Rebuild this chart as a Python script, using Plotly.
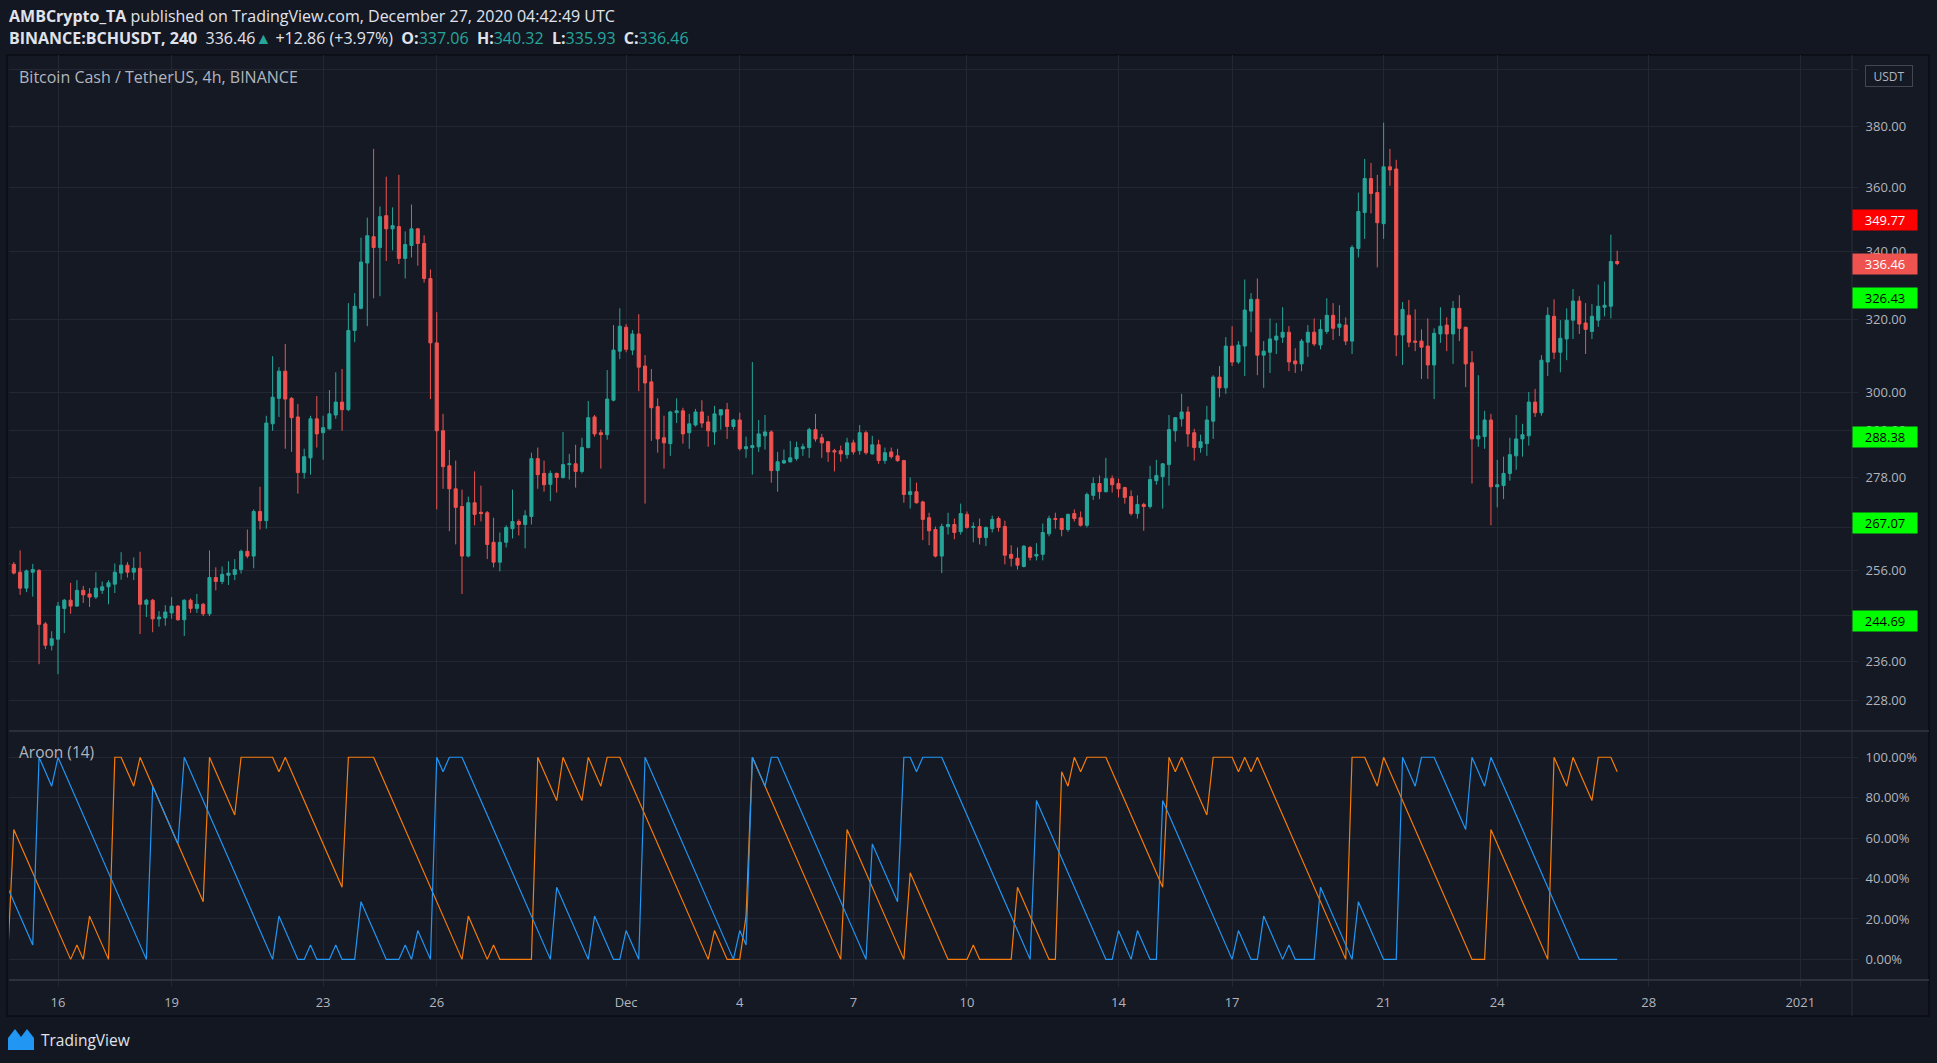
import numpy as np
import pandas as pd
import plotly.graph_objects as go

# ------------------------------------------------------------------ data
BAR_START = "2020-11-14 16:00"   # first (partly clipped) 4h candle
BAR_FREQ = "4h"

opens = [
    257.4, 257.4, 255.6, 252.0, 255.6, 256.0, 244.1, 239.5, 240.8, 247.5,
    249.3, 248.0, 251.5, 250.7, 250.0, 251.5, 252.3, 252.9, 255.4, 257.2,
    255.6, 256.5, 248.4, 249.3, 245.2, 245.4, 246.5, 248.0, 245.0, 249.3,
    247.5, 248.4, 246.3, 254.4, 253.5, 254.9, 255.1, 256.2, 260.4, 259.3,
    269.8, 267.6, 291.7, 298.4, 305.7, 298.4, 293.5, 279.3, 283.0, 293.0,
    289.4, 290.4, 294.0, 297.4, 295.4, 317.0, 323.3, 336.6, 344.6, 341.3,
    351.1, 347.0, 347.7, 338.0, 341.9, 347.0, 342.5, 332.0, 313.5, 289.9,
    281.0, 275.3, 271.0, 259.3, 271.9, 269.6, 269.5, 262.5, 257.9, 262.5,
    265.7, 267.4, 266.7, 268.6, 282.8, 279.1, 276.4, 279.1, 278.1, 281.3,
    281.5, 279.6, 285.6, 293.5, 289.4, 288.9, 297.9, 311.2, 317.9, 311.5,
    316.0, 307.1, 302.8, 296.2, 288.1, 286.6, 294.6, 295.1, 289.4, 291.4,
    294.8, 292.2, 289.6, 294.0, 295.4, 291.0, 292.7, 285.3, 285.6, 285.8,
    288.6, 289.6, 279.8, 281.7, 282.0, 282.8, 285.3, 285.6, 290.2, 288.1,
    287.1, 284.8, 284.8, 283.8, 286.8, 284.8, 289.4, 284.0, 286.3, 282.3,
    284.5, 283.5, 282.3, 273.9, 274.6, 272.1, 268.3, 265.5, 259.3, 266.2,
    266.7, 265.0, 269.1, 266.0, 266.2, 263.6, 265.7, 268.1, 266.2, 259.7,
    258.8, 256.9, 261.3, 259.3, 259.7, 264.5, 268.1, 268.1, 265.5, 269.3,
    268.3, 266.5, 273.7, 276.6, 274.6, 277.8, 276.6, 275.6, 273.4, 269.3,
    271.5, 271.0, 277.3, 278.3, 281.3, 289.9, 293.0, 294.8, 289.4, 285.6,
    286.6, 292.4, 304.1, 301.2, 312.6, 308.2, 312.6, 322.5, 325.9, 310.1,
    310.9, 314.3, 315.1, 316.5, 308.5, 307.7, 313.7, 316.5, 312.9, 316.7,
    321.3, 317.9, 318.5, 314.0, 341.0, 352.1, 362.9, 358.4, 348.6, 366.7,
    366.0, 315.7, 321.3, 314.0, 314.0, 312.6, 307.4, 316.0, 318.5, 316.0,
    323.3, 317.9, 308.0, 287.8, 288.4, 292.7, 275.8, 276.1, 279.1, 283.5,
    287.8, 288.6, 297.4, 294.6, 308.2, 321.0, 310.9, 314.6, 319.9, 325.4,
    319.1, 316.7, 319.9, 323.6, 323.9, 337.06,
]
highs = [
    257.8, 257.9, 260.6, 256.2, 257.5, 256.3, 244.5, 242.5, 248.9, 249.6,
    253.2, 253.8, 252.5, 252.0, 255.6, 253.5, 253.8, 257.6, 260.2, 257.9,
    259.0, 260.3, 249.6, 249.6, 246.9, 248.2, 250.0, 248.2, 249.5, 249.7,
    250.7, 248.7, 260.6, 256.7, 256.9, 258.1, 258.6, 260.8, 265.5, 270.3,
    275.8, 293.8, 309.8, 306.8, 313.2, 298.7, 296.9, 285.3, 293.8, 299.0,
    293.8, 300.6, 305.4, 306.3, 324.8, 327.7, 344.3, 350.5, 372.6, 354.0,
    363.5, 353.7, 364.1, 346.2, 354.6, 347.3, 345.0, 334.7, 322.2, 294.3,
    285.0, 282.3, 275.1, 273.4, 279.6, 276.1, 269.9, 268.3, 264.8, 266.5,
    275.1, 267.9, 270.1, 284.3, 285.6, 282.3, 279.8, 279.3, 289.6, 284.0,
    286.3, 288.1, 297.7, 294.0, 290.2, 306.0, 318.5, 323.3, 318.8, 317.1,
    321.6, 310.1, 306.3, 298.4, 293.8, 295.1, 298.4, 295.9, 294.3, 295.6,
    297.9, 293.8, 296.4, 295.5, 297.2, 293.0, 294.6, 288.4, 308.2, 292.7,
    294.0, 290.0, 284.5, 285.1, 287.3, 287.1, 286.6, 290.7, 294.3, 289.1,
    287.3, 285.3, 286.1, 288.1, 287.6, 291.4, 289.9, 288.6, 287.6, 285.6,
    285.6, 285.3, 282.5, 278.1, 276.8, 272.4, 269.5, 266.2, 266.9, 269.5,
    268.1, 271.7, 269.8, 267.2, 268.1, 266.2, 268.8, 268.6, 267.6, 261.8,
    261.3, 261.8, 261.6, 262.3, 266.9, 268.8, 269.5, 268.3, 269.3, 270.3,
    269.8, 274.4, 278.1, 278.6, 283.0, 278.6, 277.8, 275.8, 274.9, 273.7,
    271.9, 281.0, 282.5, 281.7, 294.0, 293.5, 299.6, 296.2, 290.4, 288.9,
    296.4, 304.6, 307.1, 315.1, 318.2, 314.0, 331.7, 327.7, 332.0, 314.0,
    320.4, 319.1, 323.6, 318.2, 312.0, 314.6, 318.5, 320.4, 320.1, 326.2,
    324.8, 324.2, 320.7, 342.0, 358.4, 369.3, 368.0, 364.1, 381.4, 372.6,
    369.0, 325.1, 325.7, 323.0, 317.3, 320.4, 317.6, 323.6, 320.7, 325.4,
    327.1, 318.0, 311.2, 304.6, 295.1, 294.3, 282.5, 283.3, 288.1, 294.0,
    291.7, 300.1, 300.9, 310.1, 323.6, 325.9, 319.9, 323.3, 328.9, 326.8,
    324.8, 324.5, 330.2, 331.1, 345.2, 340.32,
]
lows = [
    257.2, 255.1, 250.5, 251.1, 250.1, 235.5, 238.7, 238.4, 233.4, 242.1,
    246.3, 247.8, 248.7, 247.8, 249.6, 250.7, 248.4, 250.9, 253.9, 254.4,
    253.8, 241.9, 245.6, 242.3, 243.5, 243.7, 245.2, 244.8, 241.5, 246.5,
    246.5, 245.8, 245.8, 251.5, 252.9, 252.7, 253.8, 255.3, 258.8, 256.5,
    265.5, 265.7, 289.9, 293.5, 285.3, 284.5, 274.1, 277.8, 278.8, 285.6,
    282.5, 290.2, 293.0, 289.9, 295.0, 313.7, 323.0, 318.2, 326.2, 326.8,
    337.2, 340.4, 336.3, 332.0, 338.3, 335.8, 330.8, 298.2, 270.3, 275.3,
    265.1, 262.0, 250.7, 259.0, 266.5, 267.4, 258.6, 256.7, 255.8, 261.3,
    263.4, 264.1, 261.1, 266.7, 275.3, 274.6, 272.3, 274.4, 277.8, 277.6,
    275.6, 279.1, 285.4, 288.4, 280.3, 287.6, 297.6, 309.0, 310.9, 310.1,
    300.3, 271.7, 287.3, 284.3, 280.3, 283.5, 291.9, 286.6, 285.3, 291.0,
    290.7, 285.8, 286.3, 290.2, 287.8, 290.2, 284.8, 283.0, 278.8, 284.5,
    285.1, 276.8, 274.6, 281.5, 281.8, 282.3, 283.5, 283.0, 287.1, 283.0,
    282.0, 279.6, 282.0, 282.8, 283.8, 283.8, 283.8, 283.8, 281.5, 281.5,
    282.8, 282.0, 271.9, 270.5, 271.7, 263.0, 261.8, 259.0, 255.4, 264.3,
    263.2, 264.3, 265.7, 262.5, 262.0, 261.6, 264.8, 265.0, 257.4, 256.9,
    256.2, 256.7, 258.3, 258.3, 258.3, 263.9, 265.7, 263.9, 265.0, 267.4,
    266.2, 266.0, 272.6, 272.8, 274.4, 274.4, 273.2, 271.7, 268.8, 268.1,
    265.2, 270.5, 276.3, 270.5, 276.1, 287.1, 291.0, 285.8, 282.3, 284.3,
    283.5, 287.8, 298.7, 299.6, 307.1, 307.7, 304.4, 316.5, 304.6, 301.2,
    305.2, 310.4, 313.5, 305.7, 305.2, 305.7, 309.6, 312.6, 311.7, 316.0,
    314.3, 315.4, 312.9, 310.4, 338.3, 343.9, 351.8, 335.3, 343.9, 360.6,
    309.8, 307.4, 312.3, 311.2, 303.6, 303.6, 298.2, 313.5, 311.2, 307.7,
    314.0, 301.4, 276.6, 285.8, 285.3, 266.5, 270.8, 272.8, 277.3, 280.0,
    283.3, 286.1, 293.5, 293.8, 304.4, 309.0, 305.4, 308.7, 314.6, 316.0,
    310.4, 314.6, 318.0, 321.0, 320.4, 335.93,
]
closes = [
    257.6, 255.4, 252.0, 255.9, 256.2, 244.0, 239.5, 240.9, 248.0, 249.3,
    248.0, 251.5, 250.5, 250.0, 252.0, 252.3, 253.2, 255.6, 257.2, 255.6,
    256.5, 248.4, 249.3, 245.2, 245.6, 246.7, 248.0, 245.0, 249.3, 247.5,
    248.4, 246.3, 254.4, 253.5, 255.1, 255.4, 256.2, 260.4, 259.3, 269.8,
    267.6, 291.9, 298.7, 305.7, 298.2, 293.3, 279.3, 283.3, 293.0, 289.1,
    290.7, 294.3, 297.4, 295.4, 317.0, 323.9, 336.9, 344.9, 341.3, 350.8,
    347.0, 348.0, 338.0, 342.2, 347.0, 342.5, 332.0, 313.5, 289.9, 280.8,
    275.3, 270.8, 259.3, 271.9, 269.1, 269.3, 262.0, 257.9, 262.5, 266.0,
    267.4, 266.7, 268.8, 282.8, 278.8, 276.3, 279.1, 278.1, 281.3, 281.5,
    279.6, 285.6, 293.3, 289.1, 288.9, 298.2, 311.5, 318.2, 311.7, 316.0,
    306.8, 302.5, 295.9, 287.8, 286.8, 294.8, 295.1, 289.1, 291.7, 294.8,
    291.9, 289.9, 294.3, 295.4, 291.0, 292.7, 285.3, 285.8, 286.1, 289.1,
    289.6, 279.8, 282.0, 282.3, 283.0, 285.6, 285.8, 290.2, 287.8, 286.8,
    284.5, 284.5, 284.0, 286.8, 284.5, 289.4, 284.3, 286.3, 282.3, 284.3,
    283.3, 282.3, 273.9, 274.6, 271.9, 267.9, 265.2, 259.3, 266.2, 266.7,
    264.8, 269.3, 266.0, 266.2, 263.6, 266.0, 267.9, 266.0, 259.5, 258.8,
    257.2, 261.6, 259.0, 259.7, 264.8, 268.1, 267.9, 265.5, 269.1, 268.1,
    266.5, 273.9, 276.6, 274.6, 277.8, 276.3, 275.3, 273.2, 269.3, 271.5,
    271.0, 277.6, 278.6, 281.5, 290.2, 293.3, 294.8, 289.1, 285.6, 287.1,
    292.7, 304.1, 301.2, 312.6, 308.2, 312.9, 322.8, 325.9, 310.1, 311.2,
    314.6, 315.4, 316.5, 308.2, 307.7, 314.0, 316.5, 313.2, 317.3, 321.3,
    317.6, 318.8, 314.0, 341.3, 352.4, 362.9, 358.1, 348.9, 366.7, 365.7,
    315.7, 323.0, 313.7, 313.7, 312.3, 307.4, 316.2, 318.2, 316.0, 323.3,
    317.6, 307.7, 287.8, 288.6, 292.7, 275.8, 276.3, 279.1, 283.8, 287.8,
    288.9, 297.4, 294.6, 308.7, 321.3, 310.9, 314.8, 319.9, 325.4, 318.8,
    317.3, 321.0, 323.9, 324.2, 337.06, 336.46,
]

# Aroon(14); the first 14 values depend on bars before the visible range,
# so they are read off the picture; the rest follow from the highs / lows.
AROON_LEN = 14
aroon_up_head = [0, 64.3, 57.1, 50.0, 42.9, 35.7, 28.6, 21.4, 14.3, 7.1, 0, 7.1, 0, 21.4]
aroon_down_head = [35.7, 28.6, 21.4, 14.3, 7.1, 100, 92.9, 85.7, 100, 92.9, 85.7, 78.6, 71.4, 64.3]

resistance_levels = [349.77]
support_levels = [326.43, 288.38, 267.07, 244.69]
last_price = 336.46

price_ticks = [228, 236, 246, 256, 266, 278, 290, 300, 320, 340, 360, 380, 400]
aroon_ticks = [0, 20, 40, 60, 80, 100]
date_ticks = ["2020-11-16", "2020-11-19", "2020-11-23", "2020-11-26", "2020-12-01",
              "2020-12-04", "2020-12-07", "2020-12-10", "2020-12-14", "2020-12-17",
              "2020-12-21", "2020-12-24", "2020-12-28", "2021-01-01"]
date_labels = ["16", "19", "23", "26", "Dec", "4", "7", "10", "14", "17", "21", "24", "28", "2021"]

header_1 = "<b>AMBCrypto_TA</b> published on TradingView.com, December 27, 2020 04:42:49 UTC"
symbol_text = "BINANCE:BCHUSDT, 240"
change_text = "+12.86 (+3.97%)"
ohlc_last = {"O": "337.06", "H": "340.32", "L": "335.93", "C": "336.46"}
pane_title = "Bitcoin Cash / TetherUS, 4h, BINANCE"
indicator_title = "Aroon (14)"

# ------------------------------------------------------------------ derived
dates = pd.date_range(BAR_START, periods=len(opens), freq=BAR_FREQ)


def aroon(series, length, head, pick):
    vals = list(head)
    for i in range(len(head), len(series)):
        window = series[i - length:i + 1]
        target = pick(window)
        idx = max(j for j, v in enumerate(window) if v == target)
        vals.append(100.0 * idx / length)
    return vals


aroon_up = aroon(highs, AROON_LEN, aroon_up_head, max)
aroon_down = aroon(lows, AROON_LEN, aroon_down_head, min)

# ------------------------------------------------------------------ styling
W, H = 1937, 1063
PL, PR, PT, PB = 9, 1852, 55, 980     # plot area in pixels
SPLIT = 731                            # border between price and Aroon panes
FONT = "'Open Sans', Roboto, Arial, sans-serif"
BG_PAGE = "#131722"
BG_CHART = "#151924"
GRID = "#232733"
AXIS_TXT = "#b2b5be"
UP, DOWN = "#26a69a", "#ef5350"
AROON_UP_COLOR, AROON_DOWN_COLOR = "#f57c0a", "#2196f3"
SP = "&nbsp;"


def fx(px):
    return (px - PL) / (PR - PL)


def fy(py):
    return (PB - py) / (PB - PT)


split_dom = fy(SPLIT)

fig = go.Figure()

fig.add_trace(go.Candlestick(
    x=dates, open=opens, high=highs, low=lows, close=closes,
    increasing=dict(line=dict(color=UP, width=1), fillcolor=UP),
    decreasing=dict(line=dict(color=DOWN, width=1), fillcolor=DOWN),
    whiskerwidth=0, showlegend=False, hoverinfo="skip",
    xaxis="x", yaxis="y",
))
fig.add_trace(go.Scatter(
    x=dates, y=aroon_up, mode="lines", line=dict(color=AROON_UP_COLOR, width=1.2),
    showlegend=False, hoverinfo="skip", xaxis="x", yaxis="y2",
))
fig.add_trace(go.Scatter(
    x=dates, y=aroon_down, mode="lines", line=dict(color=AROON_DOWN_COLOR, width=1.2),
    showlegend=False, hoverinfo="skip", xaxis="x", yaxis="y2",
))

shapes = []
annotations = []

# chart container and frame lines
shapes.append(dict(type="rect", xref="paper", yref="paper", layer="below",
                   x0=fx(7), x1=fx(1929), y0=fy(55), y1=fy(1016),
                   fillcolor=BG_CHART, line=dict(color="#0b0d13", width=1.5)))
shapes.append(dict(type="line", xref="paper", yref="paper",
                   x0=fx(9), x1=fx(1929), y0=fy(SPLIT), y1=fy(SPLIT),
                   line=dict(color="#2a2e39", width=2)))
shapes.append(dict(type="line", xref="paper", yref="paper",
                   x0=fx(9), x1=fx(1929), y0=fy(PB), y1=fy(PB),
                   line=dict(color="#363a45", width=1.5)))
shapes.append(dict(type="line", xref="paper", yref="paper",
                   x0=fx(PR), x1=fx(PR), y0=fy(55), y1=fy(1016),
                   line=dict(color="#2a2e39", width=1)))


def price_box(value, color, txt_color):
    ylog = float(np.log10(value))
    annotations.append(dict(xref="paper", yref="y", x=1, y=ylog, xanchor="left", yanchor="middle",
                            text=f"{value:.2f}", showarrow=False, bgcolor=color,
                            width=62, height=18, borderpad=1,
                            font=dict(family=FONT, size=13, color=txt_color)))
    shapes.append(dict(type="line", xref="paper", yref="y", x0=1, x1=fx(PR + 4),
                       y0=ylog, y1=ylog, line=dict(color=txt_color, width=1)))


def level(value, color, txt_color):
    ylog = float(np.log10(value))
    shapes.append(dict(type="line", xref="paper", yref="y", x0=0, x1=1, y0=ylog, y1=ylog,
                       line=dict(color=color, width=2, dash="2px,4px")))
    price_box(value, color, txt_color)


for v in support_levels:
    level(v, "#00ff00", "#000000")
for v in resistance_levels:
    level(v, "#ff0000", "#ffffff")
price_box(last_price, DOWN, "#ffffff")

# currency tag on the price scale
annotations.append(dict(xref="paper", yref="paper", x=fx(1889), y=fy(76), xanchor="center",
                        yanchor="middle", text="USDT", showarrow=False, bgcolor=BG_CHART,
                        bordercolor="#434651", borderwidth=1, borderpad=2, width=42, height=16,
                        font=dict(family=FONT, size=12, color=AXIS_TXT)))

# header
annotations.append(dict(xref="paper", yref="paper", x=fx(7), y=fy(16), xanchor="left",
                        yanchor="middle", text=header_1, showarrow=False,
                        font=dict(family=FONT, size=16, color="#e0e3eb")))
teal = lambda s: f"<span style='color:{UP}'>{s}</span>"
line2 = (f"<b>{symbol_text}</b>{SP}{SP}{last_price:.2f}{teal('▲')}{SP}{change_text}{SP}{SP}"
         + (SP * 2).join(f"<b>{k}:</b>{teal(v)}" for k, v in ohlc_last.items()))
annotations.append(dict(xref="paper", yref="paper", x=fx(7), y=fy(38), xanchor="left",
                        yanchor="middle", text=line2, showarrow=False,
                        font=dict(family=FONT, size=16, color="#e0e3eb")))
annotations.append(dict(xref="paper", yref="paper", x=fx(17), y=fy(77), xanchor="left",
                        yanchor="middle", text=pane_title, showarrow=False,
                        font=dict(family=FONT, size=16, color=AXIS_TXT)))
annotations.append(dict(xref="paper", yref="paper", x=fx(17), y=fy(752), xanchor="left",
                        yanchor="middle", text=indicator_title, showarrow=False,
                        font=dict(family=FONT, size=15.5, color=AXIS_TXT)))

# TradingView footer logo
logo = (f"M {fx(8)},{fy(1050)} L {fx(8)},{fy(1038)} L {fx(15)},{fy(1029)} L {fx(21)},{fy(1037)} "
        f"L {fx(27)},{fy(1029)} L {fx(34)},{fy(1038)} L {fx(34)},{fy(1050)} Z")
shapes.append(dict(type="path", xref="paper", yref="paper", path=logo,
                   fillcolor="#2196f3", line=dict(width=0)))
annotations.append(dict(xref="paper", yref="paper", x=fx(39), y=fy(1040), xanchor="left",
                        yanchor="middle", text="TradingView", showarrow=False,
                        font=dict(family=FONT, size=15.5, color="#e0e3eb")))

fig.update_layout(
    width=W, height=H, autosize=False,
    margin=dict(l=PL, r=W - PR, t=PT, b=H - PB, pad=0),
    paper_bgcolor=BG_PAGE, plot_bgcolor=BG_CHART,
    hovermode=False, showlegend=False, dragmode=False,
    shapes=shapes, annotations=annotations,
    xaxis=dict(
        type="date", anchor="y2", domain=[0, 1],
        range=["2020-11-14 16:57", "2021-01-02 08:48"],
        tickvals=date_ticks, ticktext=date_labels,
        showgrid=True, gridcolor=GRID, gridwidth=1,
        ticks="outside", ticklen=6, tickcolor=GRID, ticklabelstandoff=4,
        tickfont=dict(family=FONT, size=13, color=AXIS_TXT),
        showline=False, zeroline=False, rangeslider=dict(visible=False),
    ),
    yaxis=dict(
        type="log", domain=[split_dom, 1], anchor="x", side="right",
        range=[float(np.log10(221.9)), float(np.log10(405.1))],
        tickvals=price_ticks, ticktext=[f"{v:.2f}" for v in price_ticks],
        showgrid=True, gridcolor=GRID, gridwidth=1,
        ticks="outside", ticklen=5, tickcolor=GRID, ticklabelstandoff=5,
        tickfont=dict(family=FONT, size=13, color=AXIS_TXT),
        showline=False, zeroline=False,
    ),
    yaxis2=dict(
        domain=[0, split_dom], anchor="x", side="right", range=[-10.2, 113.0],
        tickvals=aroon_ticks, ticktext=[f"{v:.2f}%" for v in aroon_ticks],
        showgrid=True, gridcolor=GRID, gridwidth=1,
        ticks="outside", ticklen=5, tickcolor=GRID, ticklabelstandoff=5,
        tickfont=dict(family=FONT, size=13, color=AXIS_TXT),
        showline=False, zeroline=False,
    ),
)

fig.write_html("out.html", config={"displayModeBar": False, "staticPlot": True})
